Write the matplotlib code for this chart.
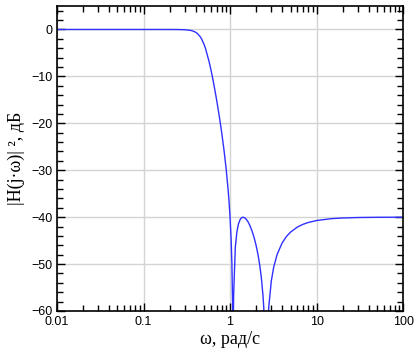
import matplotlib
matplotlib.use("Agg")
import matplotlib.pyplot as plt
from matplotlib.ticker import FixedLocator, MultipleLocator, FuncFormatter

# frequency, rad/s and |H(jw)|^2 in dB
omega = [0.01, 0.1, 0.2, 0.25, 0.3, 0.35, 0.37, 0.4, 0.42, 0.45, 0.47, 0.5,
         0.52, 0.55, 0.57, 0.6, 0.62, 0.65, 0.7, 0.75, 0.8, 0.85, 0.9, 0.95,
         0.975, 1.0, 1.03, 1.05, 1.07, 1.075, 1.0824, 1.09, 1.1, 1.15, 1.2,
         1.25, 1.3, 1.35, 1.414, 1.5, 1.6, 1.7, 1.8, 1.9, 2.0, 2.1, 2.2, 2.3,
         2.4, 2.45, 2.55, 2.613, 2.7, 2.8, 3.0, 3.2, 3.5, 4.0, 4.5, 5.0, 6.0,
         7.0, 8.0, 10.0, 15.0, 20.0, 30.0, 50.0, 100.0]
gain_db = [0.0, 0.0, -0.002, -0.012, -0.053, -0.19, -0.31, -0.58, -0.87,
           -1.49, -2.05, -3.15, -4.03, -5.67, -6.7, -8.51, -9.77, -11.71,
           -15.04, -18.43, -21.93, -25.6, -29.59, -34.16, -36.85, -40.0,
           -44.93, -49.75, -58.73, -63.4, -100.0, -63.6, -56.62, -46.46,
           -43.13, -41.48, -40.61, -40.17, -40.0, -40.22, -40.87, -41.83,
           -43.01, -44.4, -46.02, -47.9, -50.13, -52.9, -56.61, -59.11, -67.7,
           -100.0, -65.5, -59.19, -53.56, -50.6, -47.95, -45.49, -44.09,
           -43.19, -42.11, -41.51, -41.14, -40.72, -40.31, -40.18, -40.08,
           -40.03, -40.01]

xticks = [0.01, 0.1, 1, 10, 100]

fig = plt.figure(figsize=(4.16, 3.55), dpi=100)
ax = fig.add_axes([0.137, 0.124, 0.832, 0.859])

ax.plot(omega, gain_db, color="#3030ff", lw=1.0)
ax.set_xscale("log")
ax.set_xlim(0.01, 100)
ax.set_ylim(-60, 5)

ax.xaxis.set_major_locator(FixedLocator(xticks))
ax.xaxis.set_major_formatter(FuncFormatter(lambda v, p: "%g" % v))
ax.yaxis.set_major_locator(MultipleLocator(10))
ax.yaxis.set_minor_locator(MultipleLocator(2))

ax.grid(True, which="major", color="#d4d4d4", lw=1.0)
ax.set_axisbelow(True)
ax.tick_params(which="both", direction="in", top=True, right=True,
               labelsize=9, width=1)
ax.tick_params(which="major", length=6)
ax.tick_params(which="minor", length=4)
for lab in ax.get_xticklabels() + ax.get_yticklabels():
    lab.set_family("Liberation Sans")
for s in ax.spines.values():
    s.set_linewidth(1.2)

ax.set_xlabel("ω, рад/с", family="Liberation Serif", fontsize=13, labelpad=2)
ax.set_ylabel("|H(j·ω)| ², дБ", family="Liberation Serif", fontsize=13,
              labelpad=4)

fig.savefig("out.png", dpi=100)
